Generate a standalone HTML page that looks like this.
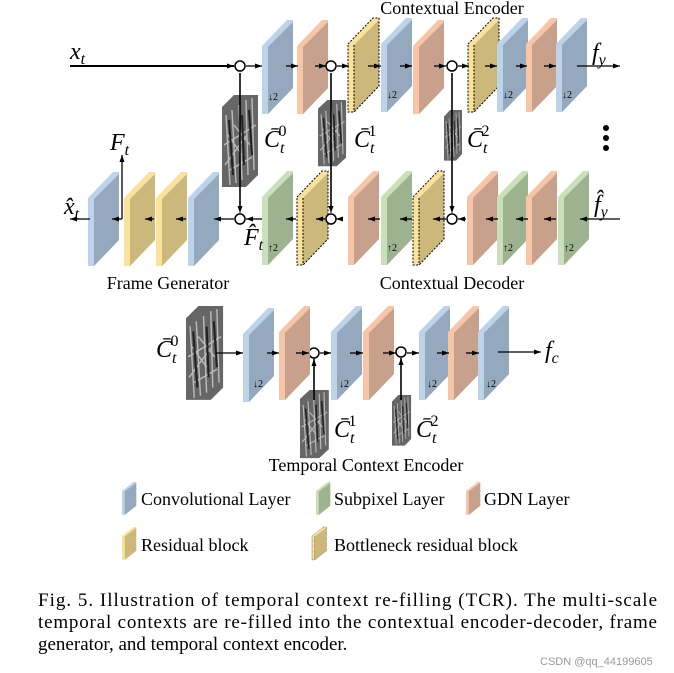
<!DOCTYPE html>
<html><head><meta charset="utf-8"><style>
body{margin:0;background:#fff;}
svg{display:block;font-family:"Liberation Serif",serif;}
.m{font-family:"Liberation Serif",serif;font-style:italic;}
</style></head><body>
<svg width="674" height="673" viewBox="0 0 674 673" xmlns="http://www.w3.org/2000/svg">
<defs>
<marker id="a" markerWidth="8" markerHeight="8" refX="7" refY="4" orient="auto" markerUnits="userSpaceOnUse"><path d="M0,1.5 L7,4 L0,6.5z" fill="#000"/></marker>
<g id="conv"><polygon points="0,26 25,0 31,0 31,68 6,94 0,94" fill="#bcd3ea"/><polygon points="6,27 31,2 31,68 6,94" fill="#95a9be"/></g>
<g id="gdn"><polygon points="0,26 25,0 31,0 31,68 6,94 0,94" fill="#f6c6a7"/><polygon points="6,27 31,2 31,68 6,94" fill="#c7a18b"/></g>
<g id="sub"><polygon points="0,26 25,0 31,0 31,68 6,94 0,94" fill="#c9e0ba"/><polygon points="6,27 31,2 31,68 6,94" fill="#9db38f"/></g>
<g id="res"><polygon points="0,26 25,0 31,0 31,68 6,94 0,94" fill="#fbe29a"/><polygon points="6,27 31,2 31,68 6,94" fill="#cdb87b"/></g>
<g id="bot"><polygon points="0,26 25,0 31,0 31,68 6,94 0,94" fill="#fbe29a"/><polygon points="6,27 31,2 31,68 6,94" fill="#cdb87b"/><polygon points="0,26 25,0 31,0 31,68 6,94 0,94" fill="none" stroke="#000" stroke-dasharray="2,1.5" stroke-width="1"/><line x1="6" y1="27" x2="6" y2="94" stroke="#000" stroke-dasharray="2,1.5"/></g>
<g id="dn"><text x="0" y="0" font-size="10">↓2</text></g>
<g id="tex"><polygon points="0,12 12,0 36,0 36,80 24,92 0,92" fill="#666"/>
<path d="M4,20 L8,90 M10,15 L14,88 M17,10 L20,85 M24,5 L26,80 M30,3 L32,75 M6,40 L20,60 M12,30 L28,50 M3,70 L25,40 M2,50 L34,30 M8,75 L30,62" stroke="#bbb" stroke-width="1.4" fill="none"/>
<path d="M7,25 L11,80 M20,20 L22,70 M27,15 L30,60" stroke="#222" stroke-width="2" fill="none"/></g>
</defs>

<text x="452" y="14" font-size="18" text-anchor="middle">Contextual Encoder</text>
<text x="168" y="289" font-size="18" text-anchor="middle">Frame Generator</text>
<text x="452" y="289" font-size="18" text-anchor="middle">Contextual Decoder</text>

<line x1="70" y1="66" x2="234" y2="66" stroke="#000" stroke-width="2" marker-end="url(#a)"/>
<text x="70" y="59" font-size="24" class="m">x<tspan font-size="16" dy="5">t</tspan></text>

<use href="#tex" transform="translate(222,95) scale(1,1)"/>
<use href="#tex" transform="translate(318,100) scale(0.78,0.72)"/>
<use href="#tex" transform="translate(444,110) scale(0.5,0.55)"/>

<g stroke="#000" stroke-width="1.6">
<line x1="240" y1="210" x2="240" y2="73"/>
<line x1="331" y1="210" x2="331" y2="73"/>
<line x1="452" y1="210" x2="452" y2="73"/>
</g>

<use href="#conv" x="262" y="20"/><use href="#dn" x="268" y="100"/>
<use href="#gdn" x="297" y="20"/>
<use href="#bot" x="348" y="18"/>
<use href="#conv" x="381" y="18"/><use href="#dn" x="387" y="98"/>
<use href="#gdn" x="413" y="20"/>
<use href="#bot" x="468" y="18"/>
<use href="#conv" x="497" y="18"/><use href="#dn" x="503" y="98"/>
<use href="#gdn" x="526" y="18"/>
<use href="#conv" x="556" y="18"/><use href="#dn" x="562" y="98"/>

<g stroke="#000" stroke-width="1.3" marker-end="url(#a)">
<line x1="246" y1="66" x2="262" y2="66"/>
<line x1="286" y1="66" x2="298" y2="66"/>
<line x1="315" y1="66" x2="326" y2="66"/>
<line x1="337" y1="66" x2="349" y2="66"/>
<line x1="368" y1="66" x2="381" y2="66"/>
<line x1="400" y1="66" x2="412" y2="66"/>
<line x1="434" y1="66" x2="446" y2="66"/>
<line x1="458" y1="66" x2="469" y2="66"/>
<line x1="485" y1="66" x2="497" y2="66"/>
<line x1="516" y1="66" x2="527" y2="66"/>
<line x1="544" y1="66" x2="556" y2="66"/>
<line x1="577" y1="66" x2="620" y2="66"/>
</g>
<text x="592" y="60" font-size="24" class="m">f<tspan font-size="16" dy="5">y</tspan></text>
<circle cx="606" cy="128" r="3"/><circle cx="606" cy="138" r="3"/><circle cx="606" cy="148" r="3"/>

<use href="#conv" x="88" y="172"/>
<use href="#res" x="124" y="172"/>
<use href="#res" x="156" y="172"/>
<use href="#conv" x="188" y="172"/>
<use href="#sub" x="262" y="171"/><text x="268" y="251" font-size="10">↑2</text>
<use href="#bot" x="297" y="171"/>
<use href="#gdn" x="348" y="171"/>
<use href="#sub" x="381" y="171"/><text x="387" y="251" font-size="10">↑2</text>
<use href="#bot" x="413" y="171"/>
<use href="#gdn" x="467" y="171"/>
<use href="#sub" x="497" y="171"/><text x="503" y="251" font-size="10">↑2</text>
<use href="#gdn" x="526" y="171"/>
<use href="#sub" x="558" y="171"/><text x="564" y="251" font-size="10">↑2</text>

<g stroke="#000" stroke-width="1.3" marker-end="url(#a)">
<line x1="620" y1="219" x2="580" y2="219"/>
<line x1="556" y1="219" x2="544" y2="219"/>
<line x1="528" y1="219" x2="516" y2="219"/>
<line x1="498" y1="219" x2="486" y2="219"/>
<line x1="466" y1="219" x2="458" y2="219"/>
<line x1="446" y1="219" x2="433" y2="219"/>
<line x1="412" y1="219" x2="400" y2="219"/>
<line x1="380" y1="219" x2="368" y2="219"/>
<line x1="342" y1="219" x2="336" y2="219"/>
<line x1="325" y1="219" x2="316" y2="219"/>
<line x1="296" y1="219" x2="286" y2="219"/>
<line x1="262" y1="219" x2="246" y2="219"/>
<line x1="234" y1="219" x2="214" y2="219"/>
<line x1="186" y1="219" x2="176" y2="219"/>
<line x1="154" y1="219" x2="145" y2="219"/>
<line x1="122" y1="219" x2="112" y2="219"/>
<line x1="90" y1="219" x2="70" y2="219"/>
<line x1="122" y1="219" x2="122" y2="155"/>
</g>
<line x1="240" y1="210" x2="240" y2="213" stroke="#000" marker-end="url(#a)"/>
<line x1="331" y1="205" x2="331" y2="213" stroke="#000" marker-end="url(#a)"/>
<line x1="452" y1="205" x2="452" y2="213" stroke="#000" marker-end="url(#a)"/>

<g fill="#fff" stroke="#000" stroke-width="1.5">
<circle cx="240" cy="66" r="5"/><circle cx="331" cy="66" r="5"/><circle cx="452" cy="66" r="5"/>
<circle cx="240" cy="219" r="5"/><circle cx="331" cy="219" r="5"/><circle cx="452" cy="219" r="5"/>
<circle cx="314" cy="353" r="5"/><circle cx="401" cy="352" r="5"/>
</g>

<text x="110" y="150" font-size="24" class="m">F<tspan font-size="16" dy="5">t</tspan></text>
<text x="64" y="214" font-size="24" class="m">x̂<tspan font-size="16" dy="5">t</tspan></text>
<text x="244" y="245" font-size="24" class="m">F̂<tspan font-size="16" dy="5">t</tspan></text>
<text x="594" y="212" font-size="24" class="m">f̂<tspan font-size="16" dy="5">y</tspan></text>
<text x="264" y="147" font-size="24" class="m">C̄<tspan font-size="16" dy="6">t</tspan><tspan font-size="16" dx="-6" dy="-17" font-style="normal">0</tspan></text>
<text x="354" y="147" font-size="24" class="m">C̄<tspan font-size="16" dy="6">t</tspan><tspan font-size="16" dx="-6" dy="-17" font-style="normal">1</tspan></text>
<text x="467" y="147" font-size="24" class="m">C̄<tspan font-size="16" dy="6">t</tspan><tspan font-size="16" dx="-6" dy="-17" font-style="normal">2</tspan></text>

<use href="#tex" transform="translate(186,306) scale(1.03,1.02)"/>
<use href="#tex" transform="translate(300,390) scale(0.8,0.74)"/>
<use href="#tex" transform="translate(392,395) scale(0.53,0.55)"/>
<text x="156" y="357" font-size="24" class="m">C̄<tspan font-size="16" dy="6">t</tspan><tspan font-size="16" dx="-6" dy="-17" font-style="normal">0</tspan></text>
<text x="334" y="437" font-size="24" class="m">C̄<tspan font-size="16" dy="6">t</tspan><tspan font-size="16" dx="-6" dy="-17" font-style="normal">1</tspan></text>
<text x="416" y="437" font-size="24" class="m">C̄<tspan font-size="16" dy="6">t</tspan><tspan font-size="16" dx="-6" dy="-17" font-style="normal">2</tspan></text>
<line x1="314" y1="400" x2="314" y2="359" stroke="#000" stroke-width="1.6" marker-end="url(#a)"/>
<line x1="401" y1="400" x2="401" y2="358" stroke="#000" stroke-width="1.6" marker-end="url(#a)"/>
<use href="#conv" x="243" y="308"/><use href="#dn" x="253" y="387"/>
<use href="#gdn" x="279" y="306"/>
<use href="#conv" x="331" y="306"/><use href="#dn" x="339" y="387"/>
<use href="#gdn" x="363" y="306"/>
<use href="#conv" x="419" y="306"/><use href="#dn" x="427" y="387"/>
<use href="#gdn" x="448" y="306"/>
<use href="#conv" x="478" y="306"/><use href="#dn" x="486" y="387"/>
<g stroke="#000" stroke-width="1.3" marker-end="url(#a)">
<line x1="216" y1="353" x2="243" y2="353"/>
<line x1="267" y1="353" x2="279" y2="353"/>
<line x1="296" y1="353" x2="309" y2="353"/>
<line x1="320" y1="353" x2="331" y2="353"/>
<line x1="350" y1="353" x2="363" y2="353"/>
<line x1="383" y1="353" x2="396" y2="353"/>
<line x1="407" y1="353" x2="419" y2="353"/>
<line x1="437" y1="353" x2="449" y2="353"/>
<line x1="466" y1="353" x2="479" y2="353"/>
<line x1="498" y1="352" x2="541" y2="352"/>
</g>
<text x="545" y="358" font-size="24" class="m">f<tspan font-size="16" dy="5">c</tspan></text>
<text x="366" y="471" font-size="18" text-anchor="middle">Temporal Context Encoder</text>

<g transform="translate(122,482) scale(0.46,0.35)"><use href="#conv"/></g>
<text x="141" y="505" font-size="18">Convolutional Layer</text>
<g transform="translate(316,482) scale(0.46,0.35)"><use href="#sub"/></g>
<text x="334" y="505" font-size="18">Subpixel Layer</text>
<g transform="translate(466,482) scale(0.46,0.35)"><use href="#gdn"/></g>
<text x="484" y="505" font-size="18">GDN Layer</text>
<g transform="translate(122,527) scale(0.46,0.35)"><use href="#res"/></g>
<text x="141" y="551" font-size="18">Residual block</text>
<g transform="translate(312,527) scale(0.46,0.35)"><use href="#bot"/></g>
<text x="334" y="551" font-size="18">Bottleneck residual block</text>

<text x="38" y="606" font-size="19" textLength="619" lengthAdjust="spacing">Fig. 5.   Illustration of temporal context re-filling (TCR). The multi-scale</text>
<text x="38" y="628" font-size="19" textLength="619" lengthAdjust="spacing">temporal contexts are re-filled into the contextual encoder-decoder, frame</text>
<text x="38" y="650" font-size="19">generator, and temporal context encoder.</text>
<text x="540" y="665" font-size="11" fill="#999" font-family="Liberation Sans,sans-serif">CSDN @qq_44199605</text>
</svg>
</body></html>
